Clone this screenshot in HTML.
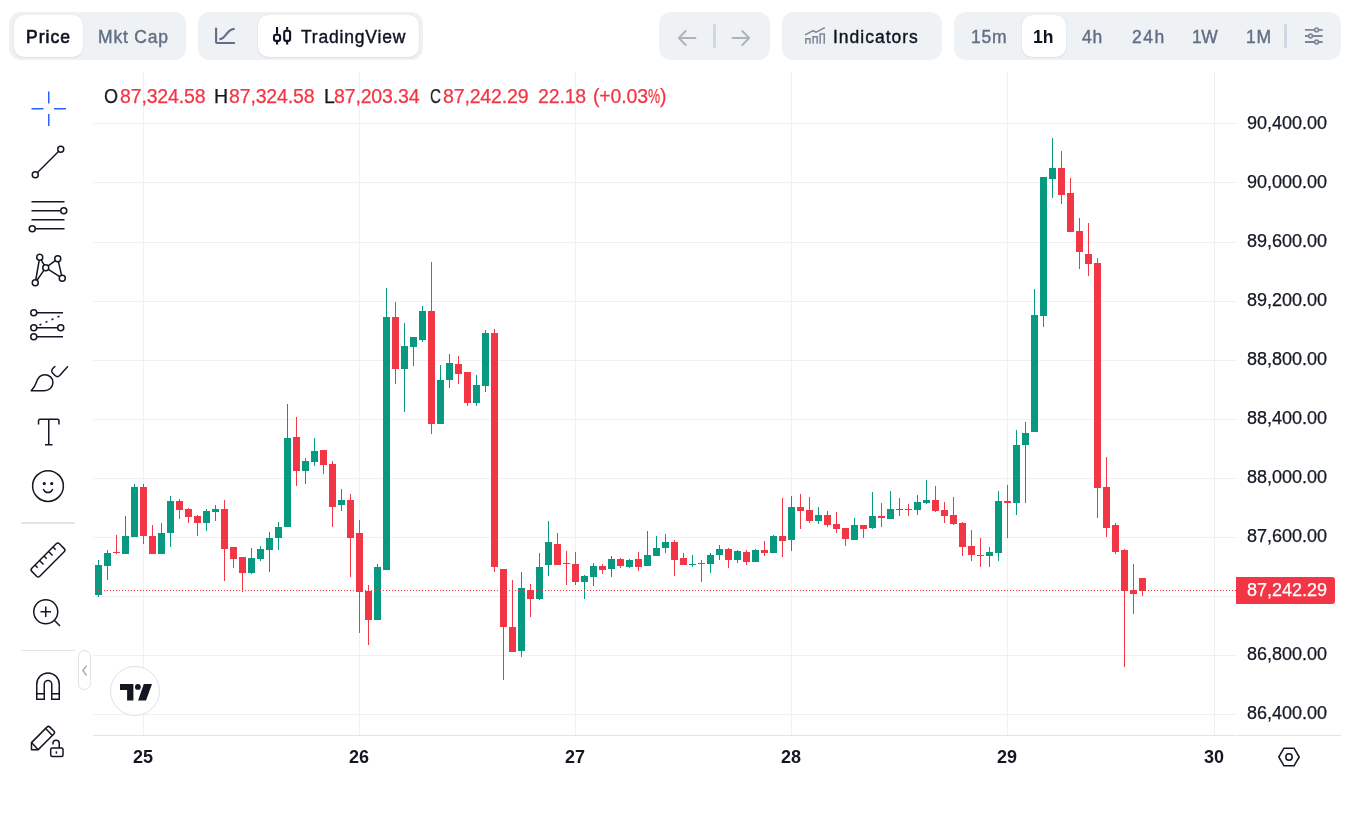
<!DOCTYPE html>
<html lang="en"><head><meta charset="utf-8"><title>Chart</title>
<style>
html,body{margin:0;padding:0;background:#fff}
body{width:1353px;height:814px;position:relative;overflow:hidden;font-family:"Liberation Sans",sans-serif;color:#0D1421}
.chart{position:absolute;left:0;top:0}
.grp{position:absolute;top:12px;height:48px;background:#EFF2F5;border-radius:12px}
.sel{position:absolute;top:15px;height:42px;background:#fff;border-radius:10px;box-shadow:0 1px 2px rgba(128,138,157,.14),0 0 1px rgba(128,138,157,.25)}
.t{position:absolute;white-space:nowrap;line-height:1;will-change:transform}
.tb{font-size:17.500px;top:29px;letter-spacing:.800px;-webkit-text-stroke:.400px currentColor}
.gy{color:#616E85}
.ax{font-size:18px;color:#131722;-webkit-text-stroke:.250px currentColor}
.tm{font-size:18px;font-weight:bold;color:#131722;text-align:center}
.lg{font-size:19.500px;top:87px;color:#F23645;letter-spacing:-.150px;-webkit-text-stroke:.250px currentColor}
.pc{display:inline-block;transform:scaleX(.700);transform-origin:0 50%;width:12px}
.lg.k{color:#131722}
.ic{position:absolute;overflow:visible}
.dv{position:absolute;background:#E0E3EB}
</style></head><body>
<svg class="chart" width="1353" height="814" viewBox="0 0 1353 814" shape-rendering="crispEdges">
<g fill="#F0F0F3"><rect x="143" y="72" width="1" height="663"/><rect x="359" y="72" width="1" height="663"/><rect x="575" y="72" width="1" height="663"/><rect x="791" y="72" width="1" height="663"/><rect x="1007" y="72" width="1" height="663"/><rect x="1214" y="72" width="1" height="663"/><rect x="93" y="123" width="1143" height="1"/><rect x="93" y="182" width="1143" height="1"/><rect x="93" y="242" width="1143" height="1"/><rect x="93" y="301" width="1143" height="1"/><rect x="93" y="360" width="1143" height="1"/><rect x="93" y="419" width="1143" height="1"/><rect x="93" y="478" width="1143" height="1"/><rect x="93" y="537" width="1143" height="1"/><rect x="93" y="596" width="1143" height="1"/><rect x="93" y="655" width="1143" height="1"/><rect x="93" y="714" width="1143" height="1"/></g>
<rect x="93" y="735" width="1143" height="1" fill="#E3E4E8"/><rect x="1237" y="735" width="104" height="1" fill="#E3E4E8"/>
<g fill="#089981"><rect x="98" y="560" width="1" height="37"/><rect x="95" y="565" width="7" height="30"/><rect x="107" y="550" width="1" height="30"/><rect x="104" y="553" width="7" height="13"/><rect x="125" y="516" width="1" height="38"/><rect x="122" y="536" width="7" height="18"/><rect x="134" y="484" width="1" height="53"/><rect x="131" y="487" width="7" height="50"/><rect x="161" y="523" width="1" height="31"/><rect x="158" y="533" width="7" height="21"/><rect x="170" y="496" width="1" height="51"/><rect x="167" y="501" width="7" height="32"/><rect x="206" y="509" width="1" height="22"/><rect x="203" y="511" width="7" height="12"/><rect x="215" y="505" width="1" height="16"/><rect x="212" y="509" width="7" height="3"/><rect x="251" y="548" width="1" height="26"/><rect x="248" y="558" width="7" height="15"/><rect x="260" y="546" width="1" height="15"/><rect x="257" y="549" width="7" height="10"/><rect x="269" y="532" width="1" height="40"/><rect x="266" y="538" width="7" height="12"/><rect x="278" y="522" width="1" height="28"/><rect x="275" y="527" width="7" height="11"/><rect x="287" y="404" width="1" height="123"/><rect x="284" y="438" width="7" height="89"/><rect x="305" y="458" width="1" height="26"/><rect x="302" y="461" width="7" height="10"/><rect x="314" y="438" width="1" height="28"/><rect x="311" y="451" width="7" height="11"/><rect x="341" y="489" width="1" height="22"/><rect x="338" y="500" width="7" height="5"/><rect x="377" y="564" width="1" height="56"/><rect x="374" y="567" width="7" height="53"/><rect x="386" y="288" width="1" height="282"/><rect x="383" y="317" width="7" height="253"/><rect x="404" y="323" width="1" height="89"/><rect x="401" y="346" width="7" height="23"/><rect x="413" y="337" width="1" height="29"/><rect x="410" y="337" width="7" height="10"/><rect x="422" y="306" width="1" height="36"/><rect x="419" y="311" width="7" height="29"/><rect x="440" y="365" width="1" height="59"/><rect x="437" y="380" width="7" height="44"/><rect x="449" y="354" width="1" height="34"/><rect x="446" y="363" width="7" height="17"/><rect x="476" y="375" width="1" height="31"/><rect x="473" y="385" width="7" height="18"/><rect x="485" y="330" width="1" height="62"/><rect x="482" y="333" width="7" height="53"/><rect x="521" y="572" width="1" height="85"/><rect x="518" y="588" width="7" height="63"/><rect x="539" y="553" width="1" height="47"/><rect x="536" y="567" width="7" height="32"/><rect x="548" y="521" width="1" height="55"/><rect x="545" y="542" width="7" height="23"/><rect x="584" y="575" width="1" height="24"/><rect x="581" y="576" width="7" height="6"/><rect x="593" y="563" width="1" height="23"/><rect x="590" y="566" width="7" height="11"/><rect x="611" y="556" width="1" height="21"/><rect x="608" y="559" width="7" height="10"/><rect x="629" y="559" width="1" height="9"/><rect x="626" y="560" width="7" height="7"/><rect x="647" y="531" width="1" height="35"/><rect x="644" y="555" width="7" height="11"/><rect x="656" y="536" width="1" height="20"/><rect x="653" y="548" width="7" height="8"/><rect x="665" y="534" width="1" height="19"/><rect x="662" y="542" width="7" height="6"/><rect x="692" y="555" width="1" height="12"/><rect x="689" y="564" width="7" height="1"/><rect x="710" y="553" width="1" height="20"/><rect x="707" y="555" width="7" height="9"/><rect x="719" y="545" width="1" height="15"/><rect x="716" y="549" width="7" height="6"/><rect x="737" y="550" width="1" height="13"/><rect x="734" y="551" width="7" height="9"/><rect x="755" y="549" width="1" height="13"/><rect x="752" y="550" width="7" height="12"/><rect x="773" y="535" width="1" height="18"/><rect x="770" y="536" width="7" height="17"/><rect x="791" y="496" width="1" height="55"/><rect x="788" y="507" width="7" height="33"/><rect x="818" y="507" width="1" height="17"/><rect x="815" y="515" width="7" height="6"/><rect x="854" y="518" width="1" height="22"/><rect x="851" y="525" width="7" height="15"/><rect x="872" y="492" width="1" height="37"/><rect x="869" y="516" width="7" height="12"/><rect x="890" y="491" width="1" height="28"/><rect x="887" y="509" width="7" height="10"/><rect x="899" y="498" width="1" height="18"/><rect x="896" y="509" width="7" height="1"/><rect x="917" y="495" width="1" height="20"/><rect x="914" y="502" width="7" height="8"/><rect x="926" y="480" width="1" height="24"/><rect x="923" y="500" width="7" height="3"/><rect x="989" y="547" width="1" height="20"/><rect x="986" y="552" width="7" height="4"/><rect x="998" y="491" width="1" height="70"/><rect x="995" y="501" width="7" height="52"/><rect x="1016" y="430" width="1" height="85"/><rect x="1013" y="445" width="7" height="58"/><rect x="1025" y="422" width="1" height="81"/><rect x="1022" y="433" width="7" height="12"/><rect x="1034" y="289" width="1" height="143"/><rect x="1031" y="315" width="7" height="117"/><rect x="1043" y="177" width="1" height="150"/><rect x="1040" y="177" width="7" height="139"/><rect x="1052" y="138" width="1" height="60"/><rect x="1049" y="168" width="7" height="11"/></g>
<g fill="#F23645"><rect x="116" y="535" width="1" height="19"/><rect x="113" y="552" width="7" height="1"/><rect x="143" y="484" width="1" height="60"/><rect x="140" y="487" width="7" height="49"/><rect x="152" y="525" width="1" height="29"/><rect x="149" y="536" width="7" height="18"/><rect x="179" y="499" width="1" height="20"/><rect x="176" y="501" width="7" height="9"/><rect x="188" y="508" width="1" height="15"/><rect x="185" y="509" width="7" height="8"/><rect x="197" y="515" width="1" height="21"/><rect x="194" y="516" width="7" height="7"/><rect x="224" y="500" width="1" height="81"/><rect x="221" y="509" width="7" height="40"/><rect x="233" y="547" width="1" height="21"/><rect x="230" y="547" width="7" height="12"/><rect x="242" y="557" width="1" height="35"/><rect x="239" y="557" width="7" height="16"/><rect x="296" y="417" width="1" height="69"/><rect x="293" y="437" width="7" height="34"/><rect x="323" y="450" width="1" height="24"/><rect x="320" y="450" width="7" height="15"/><rect x="332" y="461" width="1" height="66"/><rect x="329" y="464" width="7" height="43"/><rect x="350" y="494" width="1" height="83"/><rect x="347" y="500" width="7" height="38"/><rect x="359" y="520" width="1" height="113"/><rect x="356" y="533" width="7" height="59"/><rect x="368" y="585" width="1" height="60"/><rect x="365" y="591" width="7" height="29"/><rect x="395" y="302" width="1" height="82"/><rect x="392" y="317" width="7" height="52"/><rect x="431" y="262" width="1" height="172"/><rect x="428" y="311" width="7" height="113"/><rect x="458" y="356" width="1" height="28"/><rect x="455" y="364" width="7" height="10"/><rect x="467" y="372" width="1" height="34"/><rect x="464" y="372" width="7" height="31"/><rect x="494" y="329" width="1" height="243"/><rect x="491" y="333" width="7" height="234"/><rect x="503" y="569" width="1" height="111"/><rect x="500" y="569" width="7" height="58"/><rect x="512" y="580" width="1" height="72"/><rect x="509" y="627" width="7" height="25"/><rect x="530" y="584" width="1" height="33"/><rect x="527" y="590" width="7" height="9"/><rect x="557" y="533" width="1" height="32"/><rect x="554" y="544" width="7" height="21"/><rect x="566" y="551" width="1" height="34"/><rect x="563" y="563" width="7" height="1"/><rect x="575" y="552" width="1" height="33"/><rect x="572" y="564" width="7" height="18"/><rect x="602" y="564" width="1" height="10"/><rect x="599" y="566" width="7" height="4"/><rect x="620" y="558" width="1" height="10"/><rect x="617" y="559" width="7" height="7"/><rect x="638" y="552" width="1" height="19"/><rect x="635" y="559" width="7" height="8"/><rect x="674" y="540" width="1" height="36"/><rect x="671" y="542" width="7" height="18"/><rect x="683" y="553" width="1" height="12"/><rect x="680" y="558" width="7" height="7"/><rect x="701" y="560" width="1" height="22"/><rect x="698" y="563" width="7" height="1"/><rect x="728" y="548" width="1" height="20"/><rect x="725" y="549" width="7" height="11"/><rect x="746" y="550" width="1" height="15"/><rect x="743" y="552" width="7" height="10"/><rect x="764" y="541" width="1" height="15"/><rect x="761" y="550" width="7" height="3"/><rect x="782" y="498" width="1" height="59"/><rect x="779" y="536" width="7" height="5"/><rect x="800" y="494" width="1" height="35"/><rect x="797" y="507" width="7" height="4"/><rect x="809" y="497" width="1" height="26"/><rect x="806" y="510" width="7" height="11"/><rect x="827" y="511" width="1" height="16"/><rect x="824" y="515" width="7" height="10"/><rect x="836" y="512" width="1" height="21"/><rect x="833" y="524" width="7" height="5"/><rect x="845" y="528" width="1" height="18"/><rect x="842" y="528" width="7" height="11"/><rect x="863" y="525" width="1" height="13"/><rect x="860" y="525" width="7" height="4"/><rect x="881" y="503" width="1" height="24"/><rect x="878" y="516" width="7" height="2"/><rect x="908" y="504" width="1" height="12"/><rect x="905" y="509" width="7" height="1"/><rect x="935" y="486" width="1" height="26"/><rect x="932" y="500" width="7" height="11"/><rect x="944" y="502" width="1" height="21"/><rect x="941" y="510" width="7" height="6"/><rect x="953" y="497" width="1" height="28"/><rect x="950" y="515" width="7" height="9"/><rect x="962" y="522" width="1" height="34"/><rect x="959" y="523" width="7" height="24"/><rect x="971" y="530" width="1" height="31"/><rect x="968" y="546" width="7" height="9"/><rect x="980" y="538" width="1" height="29"/><rect x="977" y="555" width="7" height="1"/><rect x="1007" y="485" width="1" height="53"/><rect x="1004" y="501" width="7" height="2"/><rect x="1061" y="151" width="1" height="53"/><rect x="1058" y="168" width="7" height="27"/><rect x="1070" y="178" width="1" height="54"/><rect x="1067" y="193" width="7" height="39"/><rect x="1079" y="218" width="1" height="51"/><rect x="1076" y="231" width="7" height="21"/><rect x="1088" y="223" width="1" height="53"/><rect x="1085" y="254" width="7" height="10"/><rect x="1097" y="258" width="1" height="260"/><rect x="1094" y="263" width="7" height="225"/><rect x="1106" y="457" width="1" height="80"/><rect x="1103" y="487" width="7" height="41"/><rect x="1115" y="523" width="1" height="31"/><rect x="1112" y="525" width="7" height="27"/><rect x="1124" y="549" width="1" height="118"/><rect x="1121" y="550" width="7" height="41"/><rect x="1133" y="564" width="1" height="50"/><rect x="1130" y="590" width="7" height="4"/><rect x="1142" y="578" width="1" height="18"/><rect x="1139" y="578" width="7" height="13"/></g>
<g fill="#F23645"><rect x="95" y="590" width="1" height="1"/><rect x="98" y="590" width="1" height="1"/><rect x="101" y="590" width="1" height="1"/><rect x="104" y="590" width="1" height="1"/><rect x="107" y="590" width="1" height="1"/><rect x="110" y="590" width="1" height="1"/><rect x="113" y="590" width="1" height="1"/><rect x="116" y="590" width="1" height="1"/><rect x="119" y="590" width="1" height="1"/><rect x="122" y="590" width="1" height="1"/><rect x="125" y="590" width="1" height="1"/><rect x="128" y="590" width="1" height="1"/><rect x="131" y="590" width="1" height="1"/><rect x="134" y="590" width="1" height="1"/><rect x="137" y="590" width="1" height="1"/><rect x="140" y="590" width="1" height="1"/><rect x="143" y="590" width="1" height="1"/><rect x="146" y="590" width="1" height="1"/><rect x="149" y="590" width="1" height="1"/><rect x="152" y="590" width="1" height="1"/><rect x="155" y="590" width="1" height="1"/><rect x="158" y="590" width="1" height="1"/><rect x="161" y="590" width="1" height="1"/><rect x="164" y="590" width="1" height="1"/><rect x="167" y="590" width="1" height="1"/><rect x="170" y="590" width="1" height="1"/><rect x="173" y="590" width="1" height="1"/><rect x="176" y="590" width="1" height="1"/><rect x="179" y="590" width="1" height="1"/><rect x="182" y="590" width="1" height="1"/><rect x="185" y="590" width="1" height="1"/><rect x="188" y="590" width="1" height="1"/><rect x="191" y="590" width="1" height="1"/><rect x="194" y="590" width="1" height="1"/><rect x="197" y="590" width="1" height="1"/><rect x="200" y="590" width="1" height="1"/><rect x="203" y="590" width="1" height="1"/><rect x="206" y="590" width="1" height="1"/><rect x="209" y="590" width="1" height="1"/><rect x="212" y="590" width="1" height="1"/><rect x="215" y="590" width="1" height="1"/><rect x="218" y="590" width="1" height="1"/><rect x="221" y="590" width="1" height="1"/><rect x="224" y="590" width="1" height="1"/><rect x="227" y="590" width="1" height="1"/><rect x="230" y="590" width="1" height="1"/><rect x="233" y="590" width="1" height="1"/><rect x="236" y="590" width="1" height="1"/><rect x="239" y="590" width="1" height="1"/><rect x="242" y="590" width="1" height="1"/><rect x="245" y="590" width="1" height="1"/><rect x="248" y="590" width="1" height="1"/><rect x="251" y="590" width="1" height="1"/><rect x="254" y="590" width="1" height="1"/><rect x="257" y="590" width="1" height="1"/><rect x="260" y="590" width="1" height="1"/><rect x="263" y="590" width="1" height="1"/><rect x="266" y="590" width="1" height="1"/><rect x="269" y="590" width="1" height="1"/><rect x="272" y="590" width="1" height="1"/><rect x="275" y="590" width="1" height="1"/><rect x="278" y="590" width="1" height="1"/><rect x="281" y="590" width="1" height="1"/><rect x="284" y="590" width="1" height="1"/><rect x="287" y="590" width="1" height="1"/><rect x="290" y="590" width="1" height="1"/><rect x="293" y="590" width="1" height="1"/><rect x="296" y="590" width="1" height="1"/><rect x="299" y="590" width="1" height="1"/><rect x="302" y="590" width="1" height="1"/><rect x="305" y="590" width="1" height="1"/><rect x="308" y="590" width="1" height="1"/><rect x="311" y="590" width="1" height="1"/><rect x="314" y="590" width="1" height="1"/><rect x="317" y="590" width="1" height="1"/><rect x="320" y="590" width="1" height="1"/><rect x="323" y="590" width="1" height="1"/><rect x="326" y="590" width="1" height="1"/><rect x="329" y="590" width="1" height="1"/><rect x="332" y="590" width="1" height="1"/><rect x="335" y="590" width="1" height="1"/><rect x="338" y="590" width="1" height="1"/><rect x="341" y="590" width="1" height="1"/><rect x="344" y="590" width="1" height="1"/><rect x="347" y="590" width="1" height="1"/><rect x="350" y="590" width="1" height="1"/><rect x="353" y="590" width="1" height="1"/><rect x="356" y="590" width="1" height="1"/><rect x="359" y="590" width="1" height="1"/><rect x="362" y="590" width="1" height="1"/><rect x="365" y="590" width="1" height="1"/><rect x="368" y="590" width="1" height="1"/><rect x="371" y="590" width="1" height="1"/><rect x="374" y="590" width="1" height="1"/><rect x="377" y="590" width="1" height="1"/><rect x="380" y="590" width="1" height="1"/><rect x="383" y="590" width="1" height="1"/><rect x="386" y="590" width="1" height="1"/><rect x="389" y="590" width="1" height="1"/><rect x="392" y="590" width="1" height="1"/><rect x="395" y="590" width="1" height="1"/><rect x="398" y="590" width="1" height="1"/><rect x="401" y="590" width="1" height="1"/><rect x="404" y="590" width="1" height="1"/><rect x="407" y="590" width="1" height="1"/><rect x="410" y="590" width="1" height="1"/><rect x="413" y="590" width="1" height="1"/><rect x="416" y="590" width="1" height="1"/><rect x="419" y="590" width="1" height="1"/><rect x="422" y="590" width="1" height="1"/><rect x="425" y="590" width="1" height="1"/><rect x="428" y="590" width="1" height="1"/><rect x="431" y="590" width="1" height="1"/><rect x="434" y="590" width="1" height="1"/><rect x="437" y="590" width="1" height="1"/><rect x="440" y="590" width="1" height="1"/><rect x="443" y="590" width="1" height="1"/><rect x="446" y="590" width="1" height="1"/><rect x="449" y="590" width="1" height="1"/><rect x="452" y="590" width="1" height="1"/><rect x="455" y="590" width="1" height="1"/><rect x="458" y="590" width="1" height="1"/><rect x="461" y="590" width="1" height="1"/><rect x="464" y="590" width="1" height="1"/><rect x="467" y="590" width="1" height="1"/><rect x="470" y="590" width="1" height="1"/><rect x="473" y="590" width="1" height="1"/><rect x="476" y="590" width="1" height="1"/><rect x="479" y="590" width="1" height="1"/><rect x="482" y="590" width="1" height="1"/><rect x="485" y="590" width="1" height="1"/><rect x="488" y="590" width="1" height="1"/><rect x="491" y="590" width="1" height="1"/><rect x="494" y="590" width="1" height="1"/><rect x="497" y="590" width="1" height="1"/><rect x="500" y="590" width="1" height="1"/><rect x="503" y="590" width="1" height="1"/><rect x="506" y="590" width="1" height="1"/><rect x="509" y="590" width="1" height="1"/><rect x="512" y="590" width="1" height="1"/><rect x="515" y="590" width="1" height="1"/><rect x="518" y="590" width="1" height="1"/><rect x="521" y="590" width="1" height="1"/><rect x="524" y="590" width="1" height="1"/><rect x="527" y="590" width="1" height="1"/><rect x="530" y="590" width="1" height="1"/><rect x="533" y="590" width="1" height="1"/><rect x="536" y="590" width="1" height="1"/><rect x="539" y="590" width="1" height="1"/><rect x="542" y="590" width="1" height="1"/><rect x="545" y="590" width="1" height="1"/><rect x="548" y="590" width="1" height="1"/><rect x="551" y="590" width="1" height="1"/><rect x="554" y="590" width="1" height="1"/><rect x="557" y="590" width="1" height="1"/><rect x="560" y="590" width="1" height="1"/><rect x="563" y="590" width="1" height="1"/><rect x="566" y="590" width="1" height="1"/><rect x="569" y="590" width="1" height="1"/><rect x="572" y="590" width="1" height="1"/><rect x="575" y="590" width="1" height="1"/><rect x="578" y="590" width="1" height="1"/><rect x="581" y="590" width="1" height="1"/><rect x="584" y="590" width="1" height="1"/><rect x="587" y="590" width="1" height="1"/><rect x="590" y="590" width="1" height="1"/><rect x="593" y="590" width="1" height="1"/><rect x="596" y="590" width="1" height="1"/><rect x="599" y="590" width="1" height="1"/><rect x="602" y="590" width="1" height="1"/><rect x="605" y="590" width="1" height="1"/><rect x="608" y="590" width="1" height="1"/><rect x="611" y="590" width="1" height="1"/><rect x="614" y="590" width="1" height="1"/><rect x="617" y="590" width="1" height="1"/><rect x="620" y="590" width="1" height="1"/><rect x="623" y="590" width="1" height="1"/><rect x="626" y="590" width="1" height="1"/><rect x="629" y="590" width="1" height="1"/><rect x="632" y="590" width="1" height="1"/><rect x="635" y="590" width="1" height="1"/><rect x="638" y="590" width="1" height="1"/><rect x="641" y="590" width="1" height="1"/><rect x="644" y="590" width="1" height="1"/><rect x="647" y="590" width="1" height="1"/><rect x="650" y="590" width="1" height="1"/><rect x="653" y="590" width="1" height="1"/><rect x="656" y="590" width="1" height="1"/><rect x="659" y="590" width="1" height="1"/><rect x="662" y="590" width="1" height="1"/><rect x="665" y="590" width="1" height="1"/><rect x="668" y="590" width="1" height="1"/><rect x="671" y="590" width="1" height="1"/><rect x="674" y="590" width="1" height="1"/><rect x="677" y="590" width="1" height="1"/><rect x="680" y="590" width="1" height="1"/><rect x="683" y="590" width="1" height="1"/><rect x="686" y="590" width="1" height="1"/><rect x="689" y="590" width="1" height="1"/><rect x="692" y="590" width="1" height="1"/><rect x="695" y="590" width="1" height="1"/><rect x="698" y="590" width="1" height="1"/><rect x="701" y="590" width="1" height="1"/><rect x="704" y="590" width="1" height="1"/><rect x="707" y="590" width="1" height="1"/><rect x="710" y="590" width="1" height="1"/><rect x="713" y="590" width="1" height="1"/><rect x="716" y="590" width="1" height="1"/><rect x="719" y="590" width="1" height="1"/><rect x="722" y="590" width="1" height="1"/><rect x="725" y="590" width="1" height="1"/><rect x="728" y="590" width="1" height="1"/><rect x="731" y="590" width="1" height="1"/><rect x="734" y="590" width="1" height="1"/><rect x="737" y="590" width="1" height="1"/><rect x="740" y="590" width="1" height="1"/><rect x="743" y="590" width="1" height="1"/><rect x="746" y="590" width="1" height="1"/><rect x="749" y="590" width="1" height="1"/><rect x="752" y="590" width="1" height="1"/><rect x="755" y="590" width="1" height="1"/><rect x="758" y="590" width="1" height="1"/><rect x="761" y="590" width="1" height="1"/><rect x="764" y="590" width="1" height="1"/><rect x="767" y="590" width="1" height="1"/><rect x="770" y="590" width="1" height="1"/><rect x="773" y="590" width="1" height="1"/><rect x="776" y="590" width="1" height="1"/><rect x="779" y="590" width="1" height="1"/><rect x="782" y="590" width="1" height="1"/><rect x="785" y="590" width="1" height="1"/><rect x="788" y="590" width="1" height="1"/><rect x="791" y="590" width="1" height="1"/><rect x="794" y="590" width="1" height="1"/><rect x="797" y="590" width="1" height="1"/><rect x="800" y="590" width="1" height="1"/><rect x="803" y="590" width="1" height="1"/><rect x="806" y="590" width="1" height="1"/><rect x="809" y="590" width="1" height="1"/><rect x="812" y="590" width="1" height="1"/><rect x="815" y="590" width="1" height="1"/><rect x="818" y="590" width="1" height="1"/><rect x="821" y="590" width="1" height="1"/><rect x="824" y="590" width="1" height="1"/><rect x="827" y="590" width="1" height="1"/><rect x="830" y="590" width="1" height="1"/><rect x="833" y="590" width="1" height="1"/><rect x="836" y="590" width="1" height="1"/><rect x="839" y="590" width="1" height="1"/><rect x="842" y="590" width="1" height="1"/><rect x="845" y="590" width="1" height="1"/><rect x="848" y="590" width="1" height="1"/><rect x="851" y="590" width="1" height="1"/><rect x="854" y="590" width="1" height="1"/><rect x="857" y="590" width="1" height="1"/><rect x="860" y="590" width="1" height="1"/><rect x="863" y="590" width="1" height="1"/><rect x="866" y="590" width="1" height="1"/><rect x="869" y="590" width="1" height="1"/><rect x="872" y="590" width="1" height="1"/><rect x="875" y="590" width="1" height="1"/><rect x="878" y="590" width="1" height="1"/><rect x="881" y="590" width="1" height="1"/><rect x="884" y="590" width="1" height="1"/><rect x="887" y="590" width="1" height="1"/><rect x="890" y="590" width="1" height="1"/><rect x="893" y="590" width="1" height="1"/><rect x="896" y="590" width="1" height="1"/><rect x="899" y="590" width="1" height="1"/><rect x="902" y="590" width="1" height="1"/><rect x="905" y="590" width="1" height="1"/><rect x="908" y="590" width="1" height="1"/><rect x="911" y="590" width="1" height="1"/><rect x="914" y="590" width="1" height="1"/><rect x="917" y="590" width="1" height="1"/><rect x="920" y="590" width="1" height="1"/><rect x="923" y="590" width="1" height="1"/><rect x="926" y="590" width="1" height="1"/><rect x="929" y="590" width="1" height="1"/><rect x="932" y="590" width="1" height="1"/><rect x="935" y="590" width="1" height="1"/><rect x="938" y="590" width="1" height="1"/><rect x="941" y="590" width="1" height="1"/><rect x="944" y="590" width="1" height="1"/><rect x="947" y="590" width="1" height="1"/><rect x="950" y="590" width="1" height="1"/><rect x="953" y="590" width="1" height="1"/><rect x="956" y="590" width="1" height="1"/><rect x="959" y="590" width="1" height="1"/><rect x="962" y="590" width="1" height="1"/><rect x="965" y="590" width="1" height="1"/><rect x="968" y="590" width="1" height="1"/><rect x="971" y="590" width="1" height="1"/><rect x="974" y="590" width="1" height="1"/><rect x="977" y="590" width="1" height="1"/><rect x="980" y="590" width="1" height="1"/><rect x="983" y="590" width="1" height="1"/><rect x="986" y="590" width="1" height="1"/><rect x="989" y="590" width="1" height="1"/><rect x="992" y="590" width="1" height="1"/><rect x="995" y="590" width="1" height="1"/><rect x="998" y="590" width="1" height="1"/><rect x="1001" y="590" width="1" height="1"/><rect x="1004" y="590" width="1" height="1"/><rect x="1007" y="590" width="1" height="1"/><rect x="1010" y="590" width="1" height="1"/><rect x="1013" y="590" width="1" height="1"/><rect x="1016" y="590" width="1" height="1"/><rect x="1019" y="590" width="1" height="1"/><rect x="1022" y="590" width="1" height="1"/><rect x="1025" y="590" width="1" height="1"/><rect x="1028" y="590" width="1" height="1"/><rect x="1031" y="590" width="1" height="1"/><rect x="1034" y="590" width="1" height="1"/><rect x="1037" y="590" width="1" height="1"/><rect x="1040" y="590" width="1" height="1"/><rect x="1043" y="590" width="1" height="1"/><rect x="1046" y="590" width="1" height="1"/><rect x="1049" y="590" width="1" height="1"/><rect x="1052" y="590" width="1" height="1"/><rect x="1055" y="590" width="1" height="1"/><rect x="1058" y="590" width="1" height="1"/><rect x="1061" y="590" width="1" height="1"/><rect x="1064" y="590" width="1" height="1"/><rect x="1067" y="590" width="1" height="1"/><rect x="1070" y="590" width="1" height="1"/><rect x="1073" y="590" width="1" height="1"/><rect x="1076" y="590" width="1" height="1"/><rect x="1079" y="590" width="1" height="1"/><rect x="1082" y="590" width="1" height="1"/><rect x="1085" y="590" width="1" height="1"/><rect x="1088" y="590" width="1" height="1"/><rect x="1091" y="590" width="1" height="1"/><rect x="1094" y="590" width="1" height="1"/><rect x="1097" y="590" width="1" height="1"/><rect x="1100" y="590" width="1" height="1"/><rect x="1103" y="590" width="1" height="1"/><rect x="1106" y="590" width="1" height="1"/><rect x="1109" y="590" width="1" height="1"/><rect x="1112" y="590" width="1" height="1"/><rect x="1115" y="590" width="1" height="1"/><rect x="1118" y="590" width="1" height="1"/><rect x="1121" y="590" width="1" height="1"/><rect x="1124" y="590" width="1" height="1"/><rect x="1127" y="590" width="1" height="1"/><rect x="1130" y="590" width="1" height="1"/><rect x="1133" y="590" width="1" height="1"/><rect x="1136" y="590" width="1" height="1"/><rect x="1139" y="590" width="1" height="1"/><rect x="1142" y="590" width="1" height="1"/><rect x="1145" y="590" width="1" height="1"/><rect x="1148" y="590" width="1" height="1"/><rect x="1151" y="590" width="1" height="1"/><rect x="1154" y="590" width="1" height="1"/><rect x="1157" y="590" width="1" height="1"/><rect x="1160" y="590" width="1" height="1"/><rect x="1163" y="590" width="1" height="1"/><rect x="1166" y="590" width="1" height="1"/><rect x="1169" y="590" width="1" height="1"/><rect x="1172" y="590" width="1" height="1"/><rect x="1175" y="590" width="1" height="1"/><rect x="1178" y="590" width="1" height="1"/><rect x="1181" y="590" width="1" height="1"/><rect x="1184" y="590" width="1" height="1"/><rect x="1187" y="590" width="1" height="1"/><rect x="1190" y="590" width="1" height="1"/><rect x="1193" y="590" width="1" height="1"/><rect x="1196" y="590" width="1" height="1"/><rect x="1199" y="590" width="1" height="1"/><rect x="1202" y="590" width="1" height="1"/><rect x="1205" y="590" width="1" height="1"/><rect x="1208" y="590" width="1" height="1"/><rect x="1211" y="590" width="1" height="1"/><rect x="1214" y="590" width="1" height="1"/><rect x="1217" y="590" width="1" height="1"/><rect x="1220" y="590" width="1" height="1"/><rect x="1223" y="590" width="1" height="1"/><rect x="1226" y="590" width="1" height="1"/><rect x="1229" y="590" width="1" height="1"/><rect x="1232" y="590" width="1" height="1"/><rect x="1235" y="590" width="1" height="1"/></g>
</svg>
<!-- top toolbar -->
<div class="grp" style="left:9px;width:177px"></div>
<div class="sel" style="left:13.500px;width:69.300px"></div>
<div class="t tb" style="left:26px;-webkit-text-stroke:.650px currentColor;letter-spacing:1.050px">Price</div>
<div class="t tb gy" style="left:98px">Mkt Cap</div>

<div class="grp" style="left:198px;width:225px"></div>
<div class="sel" style="left:258px;width:161px"></div>
<svg class="ic" style="left:205px;top:16px" width="100" height="40" viewBox="205 16 100 40" fill="none" stroke-width="2.100"><path d="M216.100 27.800V42Q216.100 43 217.100 43H234.900" stroke="#616E85"/><path d="M219.400 39.300C226.500 39 226 29 234.600 28.900" stroke="#616E85"/><g stroke="#0D1421"><rect x="274" y="34.700" width="6.100" height="6.200" rx="2"/><path d="M277.050 27.100V33.700M277.050 41.900V44.500"/><rect x="284.200" y="30.700" width="5.900" height="10.200" rx="2"/><path d="M287.150 27.100V29.700M287.150 41.900V44.500"/></g></svg>
<div class="t tb" style="left:301px">TradingView</div>

<div class="grp" style="left:659px;width:111px"></div>
<svg class="ic" style="left:665px;top:16px" width="100" height="40" viewBox="665 16 100 40" fill="none" stroke="#ADB2BC" stroke-width="1.900" stroke-linecap="round" stroke-linejoin="round"><path d="M695.500 38H679M685.700 31L678.800 38L685.700 45"/><path d="M732.500 38H749M742.300 31L749.200 38L742.300 45"/></svg>
<div class="dv" style="left:713px;top:24px;width:3px;height:24px;background:#CFD6E4;border-radius:1px"></div>

<div class="grp" style="left:782px;width:160px"></div>
<svg class="ic" style="left:800px;top:20px" width="32" height="32" viewBox="800 20 32 32" fill="none" stroke="#7C8698" stroke-width="1.500"><path d="M805.600 34.700L813.100 30.700L816.200 32.200L824.300 27.800" stroke-linecap="round" stroke-linejoin="round"/><path d="M805.850 43.800V38.850H809.950V43.800M813.050 43.800V36.850H817.150V43.800M820.100 43.800V34.050H824.250V43.800"/></svg>
<div class="t tb" style="left:833px;letter-spacing:1px">Indicators</div>

<div class="grp" style="left:954px;width:387px"></div>
<div class="sel" style="left:1022px;width:44px"></div>
<div class="t tb gy" style="left:971px">15m</div>
<div class="t tb" style="left:1033px;font-weight:bold;-webkit-text-stroke:0;letter-spacing:0">1h</div>
<div class="t tb gy" style="left:1082px">4h</div>
<div class="t tb gy" style="left:1132px;letter-spacing:1.500px">24h</div>
<div class="t tb gy" style="left:1192px;letter-spacing:-.400px">1W</div>
<div class="t tb gy" style="left:1246px">1M</div>
<div class="dv" style="left:1284px;top:24px;width:3px;height:24px;background:#CFD6E4;border-radius:1px"></div>
<svg class="ic" style="left:1300px;top:20px" width="32" height="32" viewBox="1300 20 32 32" fill="#EFF2F5" stroke="#7C8698" stroke-width="1.800"><path d="M1305 29.900H1322.600M1305 36H1322.600M1305 42H1322.600"/><circle cx="1316.600" cy="29.900" r="1.900" stroke-width="1.600"/><circle cx="1310.600" cy="36" r="1.900" stroke-width="1.600"/><circle cx="1316.600" cy="42" r="1.900" stroke-width="1.600"/></svg>

<!-- legend -->
<div class="t lg k" style="left:104px;transform:scaleX(.920);transform-origin:0 50%">O</div><div class="t lg" style="left:120px">87,324.58</div>
<div class="t lg k" style="left:214px">H</div><div class="t lg" style="left:229px">87,324.58</div>
<div class="t lg k" style="left:324px">L</div><div class="t lg" style="left:334px">87,203.34</div>
<div class="t lg k" style="left:430px;transform:scaleX(.780);transform-origin:0 50%">C</div><div class="t lg" style="left:443px">87,242.29</div>
<div class="t lg" style="left:538px">22.18</div>
<div class="t lg" style="left:593px">(+0.03<span class="pc">%</span>)</div>

<!-- left toolbar -->
<svg class="ic" style="left:27px;top:87px;color:#2962FF" width="42" height="42" viewBox="0 0 28 28" fill="none" stroke="currentColor" stroke-width="1"><path d="M14.5 3v8M14.5 18v8M3 14.5h8M18 14.5h8"/></svg><svg class="ic" style="left:27px;top:141px;color:#131722" width="42" height="42" viewBox="0 0 28 28" fill="none" stroke="currentColor" stroke-width="1"><circle cx="5.5" cy="22.5" r="2"/><circle cx="22.5" cy="5.500" r="2"/><path d="M7 21L21 7"/></svg><svg class="ic" style="left:27px;top:195px;color:#131722" width="42" height="42" viewBox="0 0 28 28" fill="none" stroke="currentColor" stroke-width="1"><path d="M3 4.500h22M3 10.500h19.500M3 16.500h22M5.500 22.500h19.500"/><circle cx="24.500" cy="10.500" r="2" fill="#fff"/><circle cx="3.500" cy="22.500" r="2" fill="#fff"/></svg><svg class="ic" style="left:27px;top:249px;color:#131722" width="42" height="42" viewBox="0 0 28 28" fill="none" stroke="currentColor" stroke-width="1"><path d="M8.150 7.500L5.850 20.500M9.500 7.250L11.500 10.750M11.250 14.250L6.650 20.800M14.100 11.300L18.900 7.700M14.200 13.600L21.800 18.400M20.950 8.450L23.050 17.550"/><circle cx="8.500" cy="5.500" r="2"/><circle cx="5.500" cy="22.500" r="2"/><circle cx="12.500" cy="12.500" r="2"/><circle cx="20.500" cy="6.500" r="2"/><circle cx="23.500" cy="19.500" r="2"/></svg><svg class="ic" style="left:27px;top:303px;color:#131722" width="42" height="42" viewBox="0 0 28 28" fill="none" stroke="currentColor" stroke-width="1"><path d="M6.500 6.500H24M6.500 16.500H20.500M6.500 22.500H24"/><path d="M8.300 14.700L23 8.200" stroke-dasharray="1.400 3"/><circle cx="4.500" cy="6.500" r="2"/><circle cx="4.500" cy="16.500" r="2"/><circle cx="4.500" cy="22.500" r="2"/><circle cx="22.500" cy="16.500" r="2"/></svg><svg class="ic" style="left:27px;top:357px;color:#131722" width="42" height="42" viewBox="0 0 28 28" fill="none" stroke="currentColor" stroke-width="1"><path d="M2.800 22.500H11.500C14.800 22.500 17.300 20 17.300 17C17.300 14 14.800 11.800 11.800 11.800C8.500 11.800 7 14.500 6.200 17C5.500 19.200 4.300 21 2.800 22.500Z" stroke-linejoin="round"/><path d="M18.600 6.300L17.200 7.700C16.300 8.600 16.300 9.900 17.200 10.800L18.700 12.300C19.600 13.200 20.900 13.200 21.800 12.300L27 6.500" stroke-linecap="round" stroke-linejoin="round"/></svg><svg class="ic" style="left:27px;top:411px;color:#131722" width="42" height="42" viewBox="0 0 28 28" fill="none" stroke="currentColor" stroke-width="1"><path d="M7.700 9V6.500Q7.700 5.500 8.700 5.500H20.300Q21.300 5.500 21.300 6.500V9M14.500 5.500V22.500M12 22.500H17"/></svg><svg class="ic" style="left:27px;top:465px;color:#131722" width="42" height="42" viewBox="0 0 28 28" fill="none" stroke="currentColor" stroke-width="1"><circle cx="14" cy="14" r="10.250"/><circle cx="11.500" cy="12.400" r="1.050" fill="currentColor" stroke="none"/><circle cx="16.500" cy="12.400" r="1.050" fill="currentColor" stroke="none"/><path d="M11 16.300C11.600 17.700 12.700 18.400 14 18.400C15.300 18.400 16.400 17.700 17 16.300" stroke-linecap="round"/></svg><svg class="ic" style="left:27px;top:539px;color:#131722" width="42" height="42" viewBox="0 0 28 28" fill="none" stroke="currentColor" stroke-width="1"><g transform="rotate(-45 14 14)"><rect x="1" y="10.250" width="26" height="7.500" rx="1.500"/><path d="M5.500 10.250v2.500M9.750 10.250v3.800M14 10.250v2.500M18.250 10.250v3.800M22.500 10.250v2.500"/></g></svg><svg class="ic" style="left:27px;top:593px;color:#131722" width="42" height="42" viewBox="0 0 28 28" fill="none" stroke="currentColor" stroke-width="1"><circle cx="12.500" cy="12.500" r="8"/><path d="M9 12.500h7M12.500 9v7M18.200 18.200L22 22"/></svg><svg class="ic" style="left:27px;top:667px;color:#131722" width="42" height="42" viewBox="0 0 28 28" fill="none" stroke="currentColor" stroke-width="1"><path d="M6.500 21.500V11.500a7.500 7.500 0 0 1 15 0V21.500H16.500V11.500a2.500 2.500 0 0 0-5 0V21.500Z"/><path d="M6.500 17.800H11.500M16.500 17.800H21.500"/></svg><svg class="ic" style="left:27px;top:721px;color:#131722" width="42" height="42" viewBox="0 0 28 28" fill="none" stroke="currentColor" stroke-width="1"><path d="M3 19.100V14.400L13.300 4.100Q14.300 3.100 15.300 4.100L17.900 6.700Q18.900 7.700 17.900 8.700L7.500 19.100Z" stroke-linejoin="round"/><path d="M3 14.400L7.500 19.100M12.400 5L16.900 9.700"/><rect x="15.800" y="18" width="8.200" height="5.700" rx="1"/><path d="M17.300 15.700V15a2.100 2.100 0 0 1 4.200 0V18"/><path d="M19.600 20.200v1.600"/></svg>
<div class="dv" style="left:21px;top:522px;width:54px;height:2px"></div>
<div class="dv" style="left:21px;top:650px;width:54px;height:1px"></div>
<div style="position:absolute;left:78px;top:650.400px;width:11.400px;height:37.400px;border:1px solid #E0E2E9;border-radius:7px;background:#fff"></div>
<svg class="ic" style="left:78px;top:650.700px" width="14" height="39" viewBox="0 0 14 39" fill="none" stroke="#A0A3AB" stroke-width="1.300"><path d="M8.600 14.700L4.900 19.500L8.600 24.600"/></svg>

<!-- TV logo -->
<div style="position:absolute;left:110px;top:666px;width:48px;height:48px;border:1.500px solid #DDE0E8;border-radius:50%;background:#fff"></div>
<svg class="ic" style="left:110px;top:666px" width="51" height="51" viewBox="110 666 51 51" fill="#131722"><path d="M120 684H133.400V700.500H127.100V689.900H120Z"/><circle cx="137.900" cy="686.900" r="2.900"/><path d="M143.800 684H152L146 700.500H138.100Z"/></svg>

<!-- price axis -->
<div class="t ax" style="left:1247px;top:114px">90,400.00</div><div class="t ax" style="left:1247px;top:173px">90,000.00</div><div class="t ax" style="left:1247px;top:232px">89,600.00</div><div class="t ax" style="left:1247px;top:291px">89,200.00</div><div class="t ax" style="left:1247px;top:350px">88,800.00</div><div class="t ax" style="left:1247px;top:409px">88,400.00</div><div class="t ax" style="left:1247px;top:468px">88,000.00</div><div class="t ax" style="left:1247px;top:527px">87,600.00</div><div class="t ax" style="left:1247px;top:645px">86,800.00</div><div class="t ax" style="left:1247px;top:704px">86,400.00</div>
<div style="position:absolute;left:1236px;top:577px;width:99px;height:27px;background:#F23645;border-radius:0 3px 3px 0"></div>
<div class="t ax" style="left:1247px;top:581px;color:#fff">87,242.29</div>
<div class="t tm" style="left:123px;top:748px;width:40px">25</div><div class="t tm" style="left:339px;top:748px;width:40px">26</div><div class="t tm" style="left:555px;top:748px;width:40px">27</div><div class="t tm" style="left:771px;top:748px;width:40px">28</div><div class="t tm" style="left:987px;top:748px;width:40px">29</div><div class="t tm" style="left:1194px;top:748px;width:40px">30</div>
<svg class="ic" style="left:1275px;top:743px" width="28" height="28" viewBox="0 0 28 28" fill="none" stroke="#131722" stroke-width="1.500" stroke-linejoin="round"><path d="M3.800 14L9 5.200H19L24.200 14L19 22.800H9Z"/><circle cx="14" cy="14" r="3.200"/></svg>
</body></html>
